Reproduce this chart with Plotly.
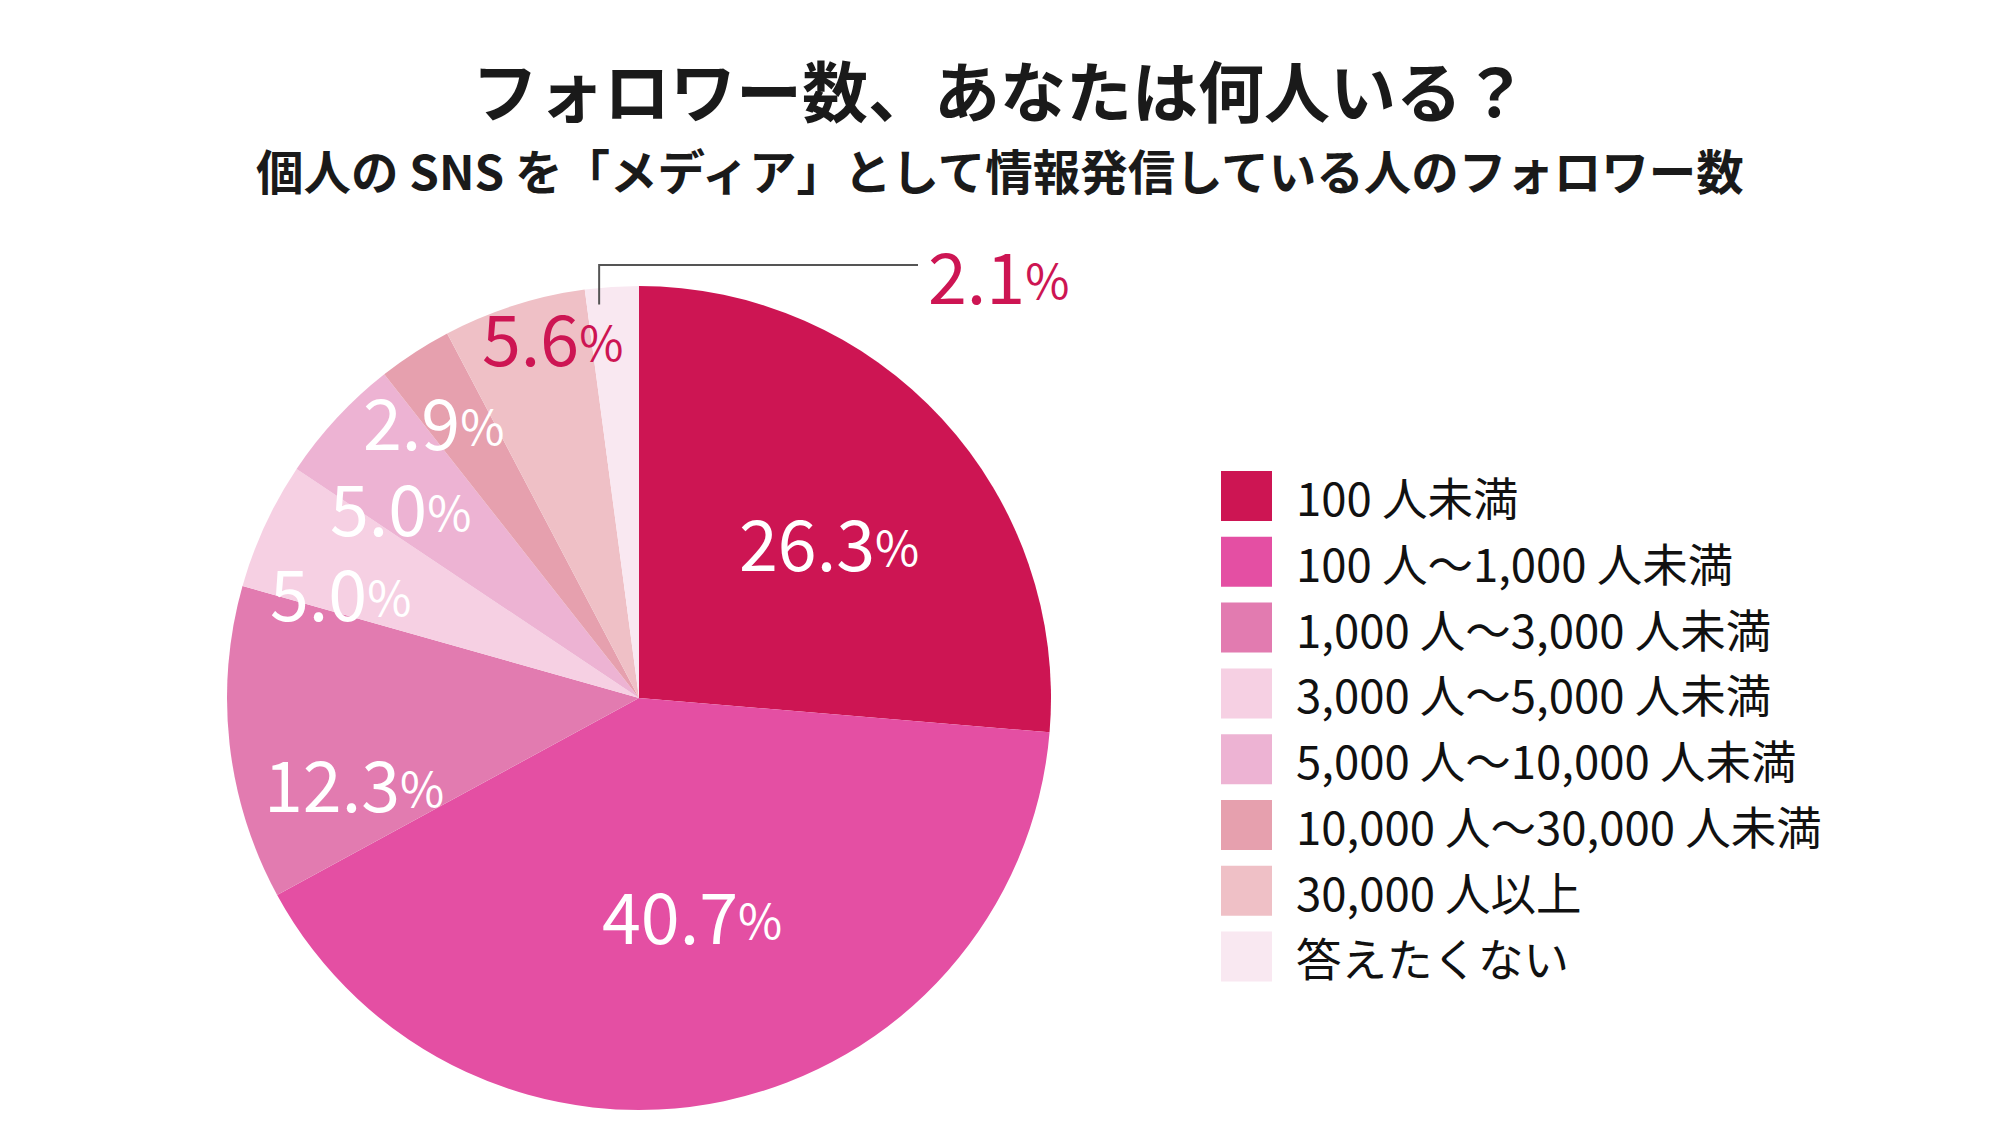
import math
import plotly.graph_objects as go

# ---------------- data ----------------
categories = [
    "100 人未満",
    "100 人～1,000 人未満",
    "1,000 人～3,000 人未満",
    "3,000 人～5,000 人未満",
    "5,000 人～10,000 人未満",
    "10,000 人～30,000 人未満",
    "30,000 人以上",
    "答えたくない",
]
values = [26.3, 40.7, 12.3, 5.0, 5.0, 2.9, 5.6, 2.1]
title_text = "フォロワー数、あなたは何人いる？"
subtitle_text = "個人の SNS を「メディア」として情報発信している人のフォロワー数"

# ---------------- styles ----------------
colors = ["#CD1553", "#E44FA3", "#E27BB0", "#F6D0E3", "#EDB3D3", "#E6A0AE", "#EFC0C6", "#F9E8F1"]
label_colors = ["#FFFFFF"] * 6 + ["#CD1553", "#CD1553"]
# label placement: radius fraction and angular nudge (deg) relative to each slice's mid-angle
label_radius = [0.60, 0.54, 0.72, 0.77, 0.745, 0.84, 0.905, None]  # None -> outside label with leader
label_nudge = [3.0, -2.0, -10.0, -4.9, -3.9, -3.5, 4.2, -2.0]
FONT = "Noto Sans CJK JP"
W, H = 1999, 1131
CX, CY, R = 639, 698, 412  # pie centre / radius in px

def px(x, y):
    return x / W, 1 - y / H

fig = go.Figure()
fig.add_trace(go.Pie(
    values=values,
    labels=categories,
    marker=dict(colors=colors, line=dict(width=0)),
    sort=False,
    direction="clockwise",
    rotation=0,
    textinfo="none",
    hoverinfo="label+percent",
    showlegend=False,
    domain=dict(x=[(CX - R) / W, (CX + R) / W], y=[1 - (CY + R) / H, 1 - (CY - R) / H]),
))

annotations = []
shapes = []

total = sum(values)
cum = 0.0
for i, v in enumerate(values):
    mid = (cum + v / 2) / total * 2 * math.pi + math.radians(label_nudge[i])
    cum += v
    txt = f"{v:.1f}<span style='font-size:48px;baseline-shift:5px'>%</span>"
    rf = label_radius[i]
    if rf is not None:
        lx = CX + rf * R * math.sin(mid)
        ly = CY - rf * R * math.cos(mid)
        x, y = px(lx, ly)
        annotations.append(dict(x=x, y=y, xref="paper", yref="paper", text=txt, showarrow=False,
                                xanchor="center", yanchor="middle",
                                font=dict(family=FONT, size=70, color=label_colors[i])))
    else:
        sx = CX + 0.96 * R * math.sin(mid)
        sy = CY - 0.96 * R * math.cos(mid)
        ty = 265
        ex = 918
        p0 = px(sx, sy); p1 = px(sx, ty); p2 = px(ex, ty)
        shapes.append(dict(type="path", xref="paper", yref="paper",
                           path=f"M {p0[0]} {p0[1]} L {p1[0]} {p1[1]} L {p2[0]} {p2[1]}",
                           line=dict(color="#555555", width=2)))
        x, y = px(ex + 8, ty + 8)
        annotations.append(dict(x=x, y=y, xref="paper", yref="paper", text=txt, showarrow=False,
                                xanchor="left", yanchor="middle",
                                font=dict(family=FONT, size=70, color=label_colors[i])))

# custom legend with large squares
LX0, LX1, LY0, LSTEP, LSZ, LTX = 1221, 1272, 471, 65.8, 50, 1294
for i, (cat, col) in enumerate(zip(categories, colors)):
    top = LY0 + i * LSTEP
    x0, y0 = px(LX0, top)
    x1, y1 = px(LX1, top + LSZ)
    shapes.append(dict(type="rect", xref="paper", yref="paper", x0=x0, x1=x1, y0=y1, y1=y0,
                       fillcolor=col, line=dict(width=0)))
    tx, ty = px(LTX, top + LSZ / 2)
    annotations.append(dict(x=tx, y=ty, xref="paper", yref="paper", text=cat, showarrow=False,
                            xanchor="left", yanchor="middle",
                            font=dict(family=FONT, size=45.5, color="#111111")))

# title and subtitle
tx, ty = px(W / 2, 88)
annotations.append(dict(x=tx, y=ty, xref="paper", yref="paper", text=title_text, showarrow=False,
                        xanchor="center", yanchor="middle",
                        font=dict(family=FONT, size=66, color="#1A1A1A", weight=700)))
tx, ty = px(W / 2, 169)
annotations.append(dict(x=tx, y=ty, xref="paper", yref="paper", text=subtitle_text, showarrow=False,
                        xanchor="center", yanchor="middle",
                        font=dict(family=FONT, size=47.5, color="#1A1A1A", weight=700)))

fig.update_layout(
    width=W, height=H,
    margin=dict(l=0, r=0, t=0, b=0),
    paper_bgcolor="white", plot_bgcolor="white",
    annotations=annotations, shapes=shapes,
    showlegend=False,
)

fig.write_html("out.html", config={"displayModeBar": False},
               post_script="document.body.style.margin='0';document.body.style.overflow='hidden';")
